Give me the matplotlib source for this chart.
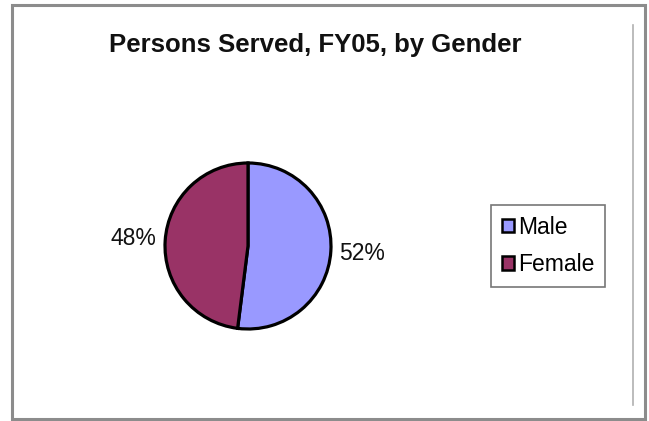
import matplotlib.pyplot as plt
from matplotlib.patches import Rectangle
from matplotlib.lines import Line2D

plt.rcParams['font.family'] = ['Liberation Sans', 'DejaVu Sans']

# datos
categorias = ['Male', 'Female']
valores = [52, 48]
colores = ['#9999FF', '#993366']
titulo = 'Persons Served, FY05, by Gender'

W, H = 649, 421
fig = plt.figure(figsize=(W / 100, H / 100), dpi=100)

# marco exterior gris
fig.patches.append(Rectangle((12 / W, 1 - 419 / H), 633 / W, 414 / H,
                             transform=fig.transFigure, fill=False,
                             edgecolor='#8c8c8c', linewidth=2.2))
# linea interior derecha
fig.lines.append(Line2D([633 / W, 633 / W], [1 - 25 / H, 1 - 405 / H],
                        transform=fig.transFigure, color='#b0b0b0', linewidth=1.2))

fig.text(315 / W, 1 - 45 / H, titulo, ha='center', va='center',
         fontsize=18.5, fontweight='bold', color='#111111')

# ejes del pastel
cx, cy, r = 248, 246, 83
ax = fig.add_axes([(cx - r) / W, 1 - (cy + r) / H, 2 * r / W, 2 * r / H])
wedges, textos, pct = ax.pie(valores, colors=colores, startangle=90, counterclock=False,
                             autopct='%1.0f%%', pctdistance=1.38,
                             wedgeprops=dict(edgecolor='black', linewidth=2.3))
for t in pct:
    t.set_fontsize(16.5)
    t.set_color('#111111')
ax.set_xlim(-1, 1)
ax.set_ylim(-1, 1)
ax.set_aspect('equal')
ax.axis('off')

leg = fig.legend(wedges, categorias, loc='center', bbox_to_anchor=(548 / W, 1 - 246 / H),
                 fontsize=16.5, frameon=True, fancybox=False, handlelength=0.55,
                 handleheight=0.55, handletextpad=0.15, labelspacing=0.65,
                 borderpad=0.45, borderaxespad=0, edgecolor='#555555')
leg.get_frame().set_linewidth(1.2)
for h in leg.legend_handles:
    h.set_edgecolor('black')
    h.set_linewidth(1.8)

fig.savefig('out.png', dpi=100)
